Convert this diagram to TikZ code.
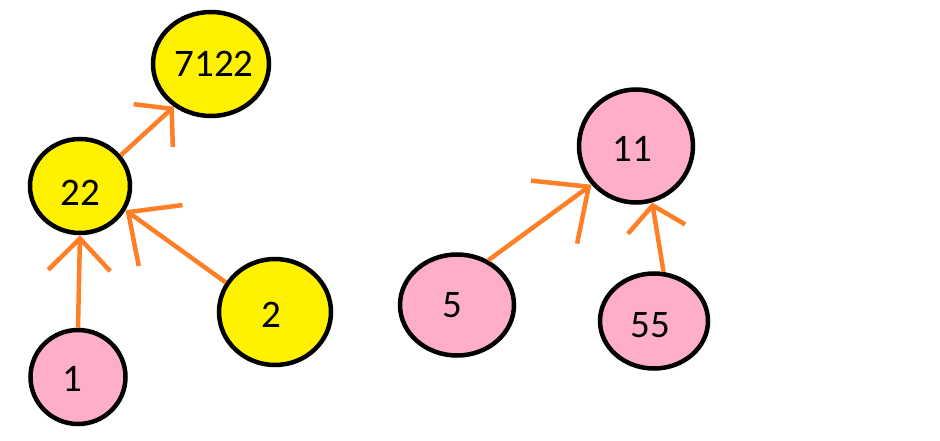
\documentclass[tikz,border=0pt]{standalone}
\usepackage{fontspec}
\setmainfont{Carlito}
\usetikzlibrary{shapes.geometric,arrows.meta}
\definecolor{nodeyellow}{RGB}{255,242,0}
\definecolor{nodepink}{RGB}{255,174,201}
\definecolor{edgeorange}{RGB}{255,127,39}
% shift the label inside its node: #1 right, #2 up
\newcommand{\offtxt}[3]{\raisebox{#2}[\height][\depth]{\hspace*{#1}#3\hspace*{-#1}}}
\begin{document}
\begin{tikzpicture}[x=1pt,y=1pt,
  nd/.style={ellipse, draw=black, line width=4.5pt, inner sep=0pt, font=\fontsize{39}{44}\selectfont},
  yel/.style={nd, fill=nodeyellow},
  pnk/.style={nd, fill=nodepink},
  edge/.style={draw=edgeorange, line width=4.5pt}]
\useasboundingbox (0,0) rectangle (940,440);
\fill[white] (0,0) rectangle (940,440);
% left tree
\node[yel, minimum width=116pt, minimum height=104pt] (n7122) at (211,376) {\offtxt{3pt}{0pt}{7122}};
\node[yel, minimum width=100pt, minimum height=94pt] (n22) at (80,254) {\offtxt{0pt}{-7pt}{22}};
\node[pnk, minimum width=95pt, minimum height=94pt] (n1) at (78,63) {\offtxt{-6pt}{-1.5pt}{1}};
\node[yel, minimum width=112pt, minimum height=106pt] (n2) at (275,128) {\offtxt{-3.5pt}{-2.5pt}{2}};
% right tree
\node[pnk, minimum width=114pt, minimum height=113pt] (n11) at (636,294) {\offtxt{-4pt}{-3pt}{11}};
\node[pnk, minimum width=114pt, minimum height=101pt] (n5) at (457,135) {\offtxt{-5pt}{0pt}{5}};
\node[pnk, minimum width=108pt, minimum height=95pt] (n55) at (654,119) {\offtxt{-4pt}{-4pt}{55}};
% connectors
\draw[edge, -{Straight Barb[length=32pt,width=62pt]}] (n1.90) -- (n22.270);
\draw[edge, -{Straight Barb[length=40pt,width=75pt]}] (n2.149) -- (n22.332);
\draw[edge, -{Straight Barb[length=25pt,width=58pt]}] (n22.37) -- (n7122.229);
\draw[edge, -{Straight Barb[length=43pt,width=78pt]}] (n5.55) -- (n11.221);
\draw[edge, -{Straight Barb[length=24pt,width=58pt]}] (n55.79) -- (n11.286);
\end{tikzpicture}
\end{document}
